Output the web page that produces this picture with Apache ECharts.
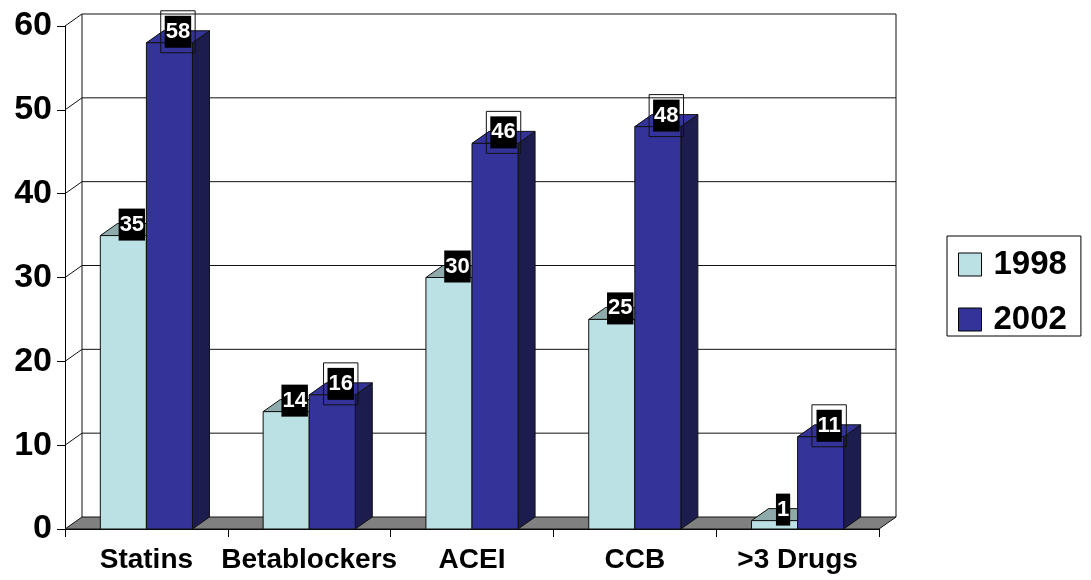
<!DOCTYPE html>
<html>
<head>
<meta charset="utf-8">
<script src="https://cdn.jsdelivr.net/npm/echarts@6/dist/echarts.min.js"></script>
<style>
  html, body { margin: 0; padding: 0; background: #fff; }
  #chart { width: 1091px; height: 580px; }
</style>
</head>
<body>
<div id="chart"></div>
<script>
// Share of patients per drug class, 1998 vs 2002
const categories = ['Statins', 'Betablockers', 'ACEI', 'CCB', '>3 Drugs'];
const values1998 = [35, 14, 30, 25, 1];
const values2002 = [58, 16, 46, 48, 11];
const yearNames = ['1998', '2002'];
const yTicks = [0, 10, 20, 30, 40, 50, 60];

// pseudo-3D depth of the plot box and the bars (pixels)
const DEPTH_X = 17;
const DEPTH_Y = -12;
const BAR_RATIO = 0.283;
const FONT = '"Liberation Sans", Arial, sans-serif';
const LINE = '#111';

const FACE_COLORS = [
  { front: '#BCE1E4', top: '#8FAAAB', side: '#7E9A9C' },
  { front: '#333399', top: '#333399', side: '#1C1C4F' }
];

// back wall, left wall gridlines and the grey floor
function renderWalls(params, api) {
  const cs = params.coordSys;
  const v = api.value(1);
  const y = api.coord([0, v])[1];
  const xl = cs.x, xr = cs.x + cs.width;
  const children = [];
  if (v === 0) {
    children.push({
      type: 'polygon',
      shape: { points: [[xl, y], [xr, y], [xr + DEPTH_X, y + DEPTH_Y], [xl + DEPTH_X, y + DEPTH_Y]] },
      style: { fill: '#808080', stroke: LINE, lineWidth: 1 }
    });
    // back wall verticals
    const yTop = api.coord([0, yTicks[yTicks.length - 1]])[1] + DEPTH_Y;
    children.push({
      type: 'line',
      shape: { x1: xl + DEPTH_X, y1: yTop, x2: xl + DEPTH_X, y2: y + DEPTH_Y },
      style: { stroke: LINE, lineWidth: 1 }
    });
    children.push({
      type: 'line',
      shape: { x1: xr + DEPTH_X, y1: yTop, x2: xr + DEPTH_X, y2: y + DEPTH_Y },
      style: { stroke: LINE, lineWidth: 1 }
    });
  } else {
    children.push({
      type: 'line',
      shape: { x1: xl, y1: y, x2: xl + DEPTH_X, y2: y + DEPTH_Y },
      style: { stroke: LINE, lineWidth: 1 }
    });
    children.push({
      type: 'line',
      shape: { x1: xl + DEPTH_X, y1: y + DEPTH_Y, x2: xr + DEPTH_X, y2: y + DEPTH_Y },
      style: { stroke: LINE, lineWidth: 1 }
    });
  }
  return { type: 'group', children: children };
}

function barGeometry(api, i, v, k) {
  const top = api.coord([i, v]);
  const base = api.coord([i, 0]);
  const bw = api.size([1, 0])[0] * BAR_RATIO;
  const x0 = k === 0 ? top[0] - bw : top[0];
  return { x0: x0, bw: bw, yt: top[1], yb: base[1] };
}

function makeBarRenderer(k) {
  const c = FACE_COLORS[k];
  return function (params, api) {
    const g = barGeometry(api, api.value(0), api.value(1), k);
    const x1 = g.x0 + g.bw;
    return {
      type: 'group',
      children: [
        {
          type: 'polygon',
          shape: { points: [[x1, g.yt], [x1 + DEPTH_X, g.yt + DEPTH_Y], [x1 + DEPTH_X, g.yb + DEPTH_Y], [x1, g.yb]] },
          style: { fill: c.side, stroke: LINE, lineWidth: 1 }
        },
        {
          type: 'polygon',
          shape: { points: [[g.x0, g.yt], [x1, g.yt], [x1 + DEPTH_X, g.yt + DEPTH_Y], [g.x0 + DEPTH_X, g.yt + DEPTH_Y]] },
          style: { fill: c.top, stroke: LINE, lineWidth: 1 }
        },
        {
          type: 'rect',
          shape: { x: g.x0, y: g.yt, width: g.bw, height: g.yb - g.yt },
          style: { fill: c.front, stroke: LINE, lineWidth: 1 }
        }
      ]
    };
  };
}

// value tags sitting on the bar tops
function renderLabels(params, api) {
  const i = api.value(0), v = api.value(1), k = api.value(2);
  const g = barGeometry(api, i, v, k);
  const cx = g.x0 + g.bw / 2 + DEPTH_X / 2;
  const cy = g.yt + DEPTH_Y / 2 - 5;
  const text = String(v);
  const children = [];
  if (k === 1) {
    const fw = text.length * 12.2 + 10;
    const fh = 42;
    children.push({
      type: 'rect',
      shape: { x: cx - fw / 2, y: cy - fh / 2, width: fw, height: fh },
      style: { fill: 'none', stroke: LINE, lineWidth: 1 }
    });
  }
  children.push({
    type: 'text',
    style: {
      text: text, x: cx, y: cy, align: 'center', verticalAlign: 'middle',
      fill: '#fff', fontFamily: FONT, fontWeight: 'bold', fontSize: 22, lineHeight: 22,
      backgroundColor: '#000', padding: [6, 1, 4, 1]
    }
  });
  return { type: 'group', children: children };
}

const labelData = [];
[values1998, values2002].forEach(function (vals, k) {
  vals.forEach(function (v, i) { labelData.push([i, v, k]); });
});

const chart = echarts.init(document.getElementById('chart'), null, { renderer: 'canvas' });
chart.setOption({
  animation: false,
  backgroundColor: '#fff',
  grid: { left: 65, right: 212, top: 26, bottom: 51 },
  legend: {
    data: yearNames,
    orient: 'vertical',
    left: 947,
    top: 236,
    padding: [12, 14, 0, 11],
    itemGap: 22,
    itemWidth: 23,
    itemHeight: 23,
    icon: 'rect',
    borderColor: '#000',
    borderWidth: 1,
    selectedMode: false,
    itemStyle: { borderColor: '#000', borderWidth: 1 },
    textStyle: { fontFamily: FONT, fontWeight: 'bold', fontSize: 33, color: '#000', lineHeight: 23, padding: [0, 0, 0, 7] }
  },
  xAxis: {
    type: 'category',
    data: categories,
    boundaryGap: true,
    axisLine: { show: true, lineStyle: { color: '#000', width: 1 } },
    axisTick: { show: true, length: 8, interval: 0, lineStyle: { color: '#000' } },
    axisLabel: { interval: 0, fontFamily: FONT, fontWeight: 'bold', fontSize: 28, color: '#000', margin: 17 },
    splitLine: { show: false }
  },
  yAxis: {
    type: 'value',
    min: yTicks[0],
    max: yTicks[yTicks.length - 1],
    interval: 10,
    axisLine: { show: true, lineStyle: { color: '#000', width: 1 } },
    axisTick: { show: true, length: 8, lineStyle: { color: '#000' } },
    axisLabel: { fontFamily: FONT, fontWeight: 'bold', fontSize: 34, color: '#000', margin: 13 },
    splitLine: { show: false }
  },
  series: [
    {
      type: 'custom',
      renderItem: renderWalls,
      data: yTicks.map(function (v) { return [0, v]; }),
      encode: { x: 0, y: 1 },
      z: 1,
      silent: true
    },
    {
      name: yearNames[0],
      type: 'custom',
      renderItem: makeBarRenderer(0),
      data: values1998.map(function (v, i) { return [i, v]; }),
      encode: { x: 0, y: 1 },
      itemStyle: { color: FACE_COLORS[0].front },
      z: 2
    },
    {
      name: yearNames[1],
      type: 'custom',
      renderItem: makeBarRenderer(1),
      data: values2002.map(function (v, i) { return [i, v]; }),
      encode: { x: 0, y: 1 },
      itemStyle: { color: FACE_COLORS[1].front },
      z: 3
    },
    {
      type: 'custom',
      renderItem: renderLabels,
      data: labelData,
      encode: { x: 0, y: 1 },
      z: 10,
      silent: true
    }
  ]
});
</script>
</body>
</html>
